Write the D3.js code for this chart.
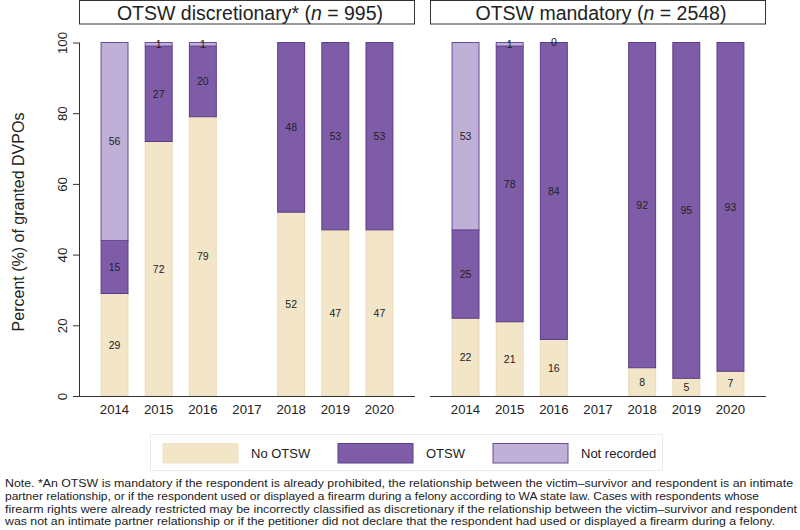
<!DOCTYPE html>
<html><head><meta charset="utf-8">
<script src="https://cdn.jsdelivr.net/npm/d3@7/dist/d3.min.js"></script>
<style>
html,body{margin:0;padding:0;background:#fff;}
svg{display:block;font-family:"Liberation Sans",Arial,Helvetica,sans-serif;}
</style></head>
<body>
<svg id="chart" width="800" height="530"></svg>
<script>
const years = ["2014","2015","2016","2017","2018","2019","2020"];
const seriesKeys = ["No OTSW","OTSW","Not recorded"];
const discNoOtsw = [29,72,79,null,52,47,47];
const discOtsw   = [15,27,20,null,48,53,53];
const discNotRec = [56,1,1,null,null,null,null];
const mandNoOtsw = [22,21,16,null,8,5,7];
const mandOtsw   = [25,78,84,null,92,95,93];
const mandNotRec = [53,1,0,null,null,null,null];
const yTicks = [0,20,40,60,80,100];
const panelTitles = [
  {pre:"OTSW discretionary* (", n:"n", post:" = 995)"},
  {pre:"OTSW mandatory (", n:"n", post:" = 2548)"}
];
const noteLines = [
  "Note. *An OTSW is mandatory if the respondent is already prohibited, the relationship between the victim\u2013survivor and respondent is an intimate",
  "partner relationship, or if the respondent used or displayed a firearm during a felony according to WA state law. Cases with respondents whose",
  "firearm rights were already restricted may be incorrectly classified as discretionary if the relationship between the victim\u2013survivor and respondent",
  "was not an intimate partner relationship or if the petitioner did not declare that the respondent had used or displayed a firearm during a felony."
];

const fills = {"No OTSW":"#f2e5c8","OTSW":"#7f5ca8","Not recorded":"#bfb0d8"};
const strokes = {"No OTSW":"#e9dbb8","OTSW":"#5a3d86","Not recorded":"#6a4b95"};

const svg = d3.select("#chart");
const y = d3.scaleLinear().domain([0,100]).range([396,42.5]);

function buildRows(a,b,c){
  return years.map((yr,i)=>({year:yr,"No OTSW":a[i],"OTSW":b[i],"Not recorded":c[i]}));
}
const panels = [
  {x0:79,x1:415,rows:buildRows(discNoOtsw,discOtsw,discNotRec),title:panelTitles[0],yAxis:true},
  {x0:430,x1:766,rows:buildRows(mandNoOtsw,mandOtsw,mandNotRec),title:panelTitles[1],yAxis:false}
];

const stack = d3.stack().keys(seriesKeys).value((d,k)=>d[k]==null?0:d[k]);

panels.forEach(p=>{
  const g = svg.append("g");
  const x = d3.scaleBand().domain(years).range([p.x0,p.x1]).paddingInner(0.39).paddingOuter(0.5);
  g.append("rect").attr("x",p.x0+0.5).attr("y",0.5).attr("width",p.x1-p.x0-1).attr("height",23.5)
    .attr("fill","#fff").attr("stroke","#333").attr("stroke-width",1);
  const t = g.append("text").attr("x",(p.x0+p.x1)/2+3).attr("y",19.5).attr("text-anchor","middle")
    .attr("font-size",19.5).attr("fill","#222");
  t.append("tspan").text(p.title.pre);
  t.append("tspan").attr("font-style","italic").text(p.title.n);
  t.append("tspan").text(p.title.post);

  const stacked = stack(p.rows);
  stacked.forEach(layer=>{
    const key = layer.key;
    layer.forEach((seg,i)=>{
      const row = p.rows[i];
      if(row[key]==null) return;
      const yTop = y(seg[1]), yBot = y(seg[0]);
      g.append("rect").attr("x",x(row.year)).attr("y",yTop)
        .attr("width",x.bandwidth()).attr("height",Math.max(0,yBot-yTop))
        .attr("fill",fills[key]).attr("stroke",strokes[key]).attr("stroke-width",1);
    });
  });
  stacked.forEach(layer=>{
    const key = layer.key;
    layer.forEach((seg,i)=>{
      const row = p.rows[i];
      if(row[key]==null) return;
      g.append("text").attr("x",x(row.year)+x.bandwidth()/2)
        .attr("y",y((seg[0]+seg[1])/2)+3.8).attr("text-anchor","middle")
        .attr("font-size",10.5).attr("fill","#222").text(row[key]);
    });
  });

  const xa = d3.axisBottom(x).tickSize(0).tickPadding(9);
  const ga = g.append("g").attr("transform","translate(0,396)").call(xa);
  ga.select(".domain").attr("stroke","#333").attr("d",`M${p.x0},0.5H${p.x1}`);
  ga.selectAll("text").attr("font-size",13.2).attr("fill","#222").attr("font-family","Liberation Sans, Arial, sans-serif");

  if(p.yAxis){
    const ya = d3.axisLeft(y).tickValues(yTicks).tickSize(6).tickPadding(0).tickFormat(d3.format("d"));
    const gy = g.append("g").attr("transform",`translate(${p.x0},0)`).call(ya);
    gy.select(".domain").attr("stroke","#333").attr("d","M0.5,42.5V396");
    gy.selectAll(".tick line").attr("stroke","#333");
    gy.selectAll(".tick text").attr("font-size",13.2).attr("fill","#222")
      .attr("font-family","Liberation Sans, Arial, sans-serif")
      .attr("text-anchor","middle").attr("x",0).attr("dy",0)
      .attr("transform","translate(-12,0) rotate(-90)");
  }
});

svg.append("text").attr("transform","translate(24,222) rotate(-90)").attr("text-anchor","middle")
  .attr("font-size",16).attr("fill","#222").text("Percent (%) of granted DVPOs");

const lg = svg.append("g");
lg.append("rect").attr("x",150.5).attr("y",434.5).attr("width",512).attr("height",36)
  .attr("fill","#fff").attr("stroke","#ececec");
const legendPos = [{sx:163,tx:251},{sx:338,tx:426},{sx:493,tx:581}];
seriesKeys.forEach((k,i)=>{
  lg.append("rect").attr("x",legendPos[i].sx).attr("y",443.5).attr("width",75).attr("height",19.5)
    .attr("fill",fills[k]).attr("stroke",k==="No OTSW"?"#efe2c4":strokes[k]);
  lg.append("text").attr("x",legendPos[i].tx).attr("y",458).attr("font-size",13).attr("fill","#222").text(k);
});

const noteWidths = [788,754,792,770];
noteLines.forEach((l,i)=>{
  svg.append("text").attr("x",5).attr("y",487+i*12.8).attr("font-size",11.5)
    .attr("font-family","Liberation Sans Narrow, Arial Narrow, Liberation Sans, sans-serif")
    .attr("fill","#222").attr("textLength",noteWidths[i]).attr("lengthAdjust","spacingAndGlyphs").text(l);
});
</script>
</body></html>
